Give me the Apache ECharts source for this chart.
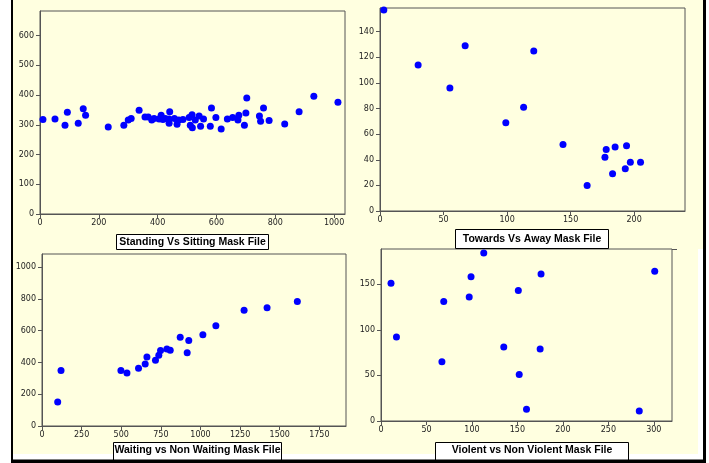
<!DOCTYPE html>
<html><head><meta charset="utf-8">
<script src="https://cdn.jsdelivr.net/npm/echarts@6/dist/echarts.min.js"></script>
<style>html,body{margin:0;padding:0;background:#fff}#c{width:709px;height:463px}</style>
</head><body><div id="c"></div>
<script>
// ---- data ----
const titles = ["Standing Vs Sitting Mask File", "Towards Vs Away Mask File",
                "Waiting vs Non Waiting Mask File", "Violent vs Non Violent Mask File"];

const standX = [10,51,85,93,130,147,155,232,285,300,310,337,357,368,380,388,405,412,418,426,439,441,439,457,466,472,486,507,511,517,518,528,541,546,556,579,583,598,616,637,655,673,676,695,700,703,746,750,760,779,832,881,931,1013];
const standY = [318,320,299,342,305,354,332,293,299,316,321,349,326,326,316,321,320,332,318,321,305,344,320,321,302,316,318,325,299,334,290,316,330,295,320,295,357,325,286,320,325,316,332,299,340,390,330,312,357,315,303,344,396,376];

const towardX = [3,30,55,67,99,113,121,144,163,177,178,183,185,193,194,197,205];
const towardY = [157,114,96,129,69,81,125,52,20,42,48,29,50,33,51,38,38];

const waitX = [99,120,498,536,609,651,662,716,737,748,788,809,872,916,926,1015,1097,1275,1420,1611];
const waitY = [151,349,349,334,363,391,435,414,445,475,485,477,559,462,538,574,632,729,744,784];

const violX = [11,17,67,69,97,99,113,135,151,152,160,175,176,284,301];
const violY = [151,92,65,131,136,158,184,81,143,51,13,79,161,11,164];

const ticks1X = [0,200,400,600,800,1000];
const ticks1Y = [0,100,200,300,400,500,600];
const ticks2X = [0,50,100,150,200];
const ticks2Y = [0,20,40,60,80,100,120,140];
const ticks3X = [0,250,500,750,1000,1250,1500,1750];
const ticks3Y = [0,200,400,600,800,1000];
const ticks4X = [0,50,100,150,200,250,300];
const ticks4Y = [0,50,100,150];

// ---- layout / style ----
const grids = [
  {left:40, top:11, width:305, height:203},
  {left:380, top:8, width:305, height:203},
  {left:42, top:254, width:304, height:172},
  {left:381, top:249, width:291, height:172}
];
const ranges = [
  {xmax:1037, ymax:683, xi:200, yi:100},
  {xmax:240, ymax:158.5, xi:50, yi:20},
  {xmax:1918, ymax:1083, xi:250, yi:200},
  {xmax:320, ymax:188.5, xi:50, yi:50}
];
const tickSets = [[ticks1X,ticks1Y],[ticks2X,ticks2Y],[ticks3X,ticks3Y],[ticks4X,ticks4Y]];
const dataSets = [[standX,standY],[towardX,towardY],[waitX,waitY],[violX,violY]];
const boxes = [
  {x:116, y:234, w:152, h:15},
  {x:455, y:229, w:153, h:19},
  {x:113, y:442, w:168, h:19},
  {x:435, y:442, w:193, h:19}
];

const axisCol = '#555';
const lblStyle = {fontFamily:'DejaVu Sans', fontSize:8, color:'#222'};

function mkAxis(i, isX){
  const r = ranges[i];
  const t = tickSets[i][isX?0:1];
  const mx = isX ? r.xmax : r.ymax;
  return {
    type:'value', gridIndex:i, min:0, max:mx, interval: isX?r.xi:r.yi,
    axisLine:{show:true, onZero:false, lineStyle:{color:axisCol, width:1}},
    axisTick:{show:true, inside:false, length:4, lineStyle:{color:axisCol}, customValues:t},
    axisLabel:Object.assign({show:true, margin: isX?5:6, customValues:t,
      formatter:(v)=> (t.indexOf(v)>=0 ? String(v) : '')}, lblStyle),
    splitLine:{show:false}
  };
}

const option = {
  animation:false,
  backgroundColor:'#fff',
  grid: grids.map(g=>Object.assign({show:true, borderColor:axisCol, borderWidth:1, backgroundColor:'transparent', containLabel:false}, g)),
  xAxis: [0,1,2,3].map(i=>mkAxis(i,true)),
  yAxis: [0,1,2,3].map(i=>mkAxis(i,false)),
  series: dataSets.map((d,i)=>({
    type:'scatter', xAxisIndex:i, yAxisIndex:i, symbolSize:7, clip:false,
    itemStyle:{color:'#0000ff', opacity:1},
    data: d[0].map((x,k)=>[x, d[1][k]])
  })),
  graphic: [
    {type:'rect', z:-10, silent:true, shape:{x:13, y:0, width:690, height:249}, style:{fill:'#ffffe0'}},
    {type:'rect', z:-10, silent:true, shape:{x:13, y:249, width:685, height:205}, style:{fill:'#ffffe0'}},
    {type:'rect', z:50, silent:true, shape:{x:11, y:0, width:2, height:463}, style:{fill:'#000'}},
    {type:'rect', z:50, silent:true, shape:{x:703, y:0, width:3, height:463}, style:{fill:'#000'}},
    {type:'rect', z:50, silent:true, shape:{x:11, y:459.5, width:695, height:4}, style:{fill:'#000'}},
    {type:'line', z:5, silent:true, shape:{x1:672, y1:249.5, x2:677, y2:249.5}, style:{stroke:axisCol, lineWidth:1}}
  ].concat(boxes.flatMap((b,i)=>[
    {type:'rect', z:40, silent:true, shape:{x:b.x+0.5, y:b.y+0.5, width:b.w, height:b.h}, style:{fill:'#fff', stroke:'#000', lineWidth:1}},
    {type:'text', z:41, silent:true, x:b.x+b.w/2+0.5, y:(i<2? b.y+b.h/2+0.5 : 450.5),
      style:{text:titles[i], fontFamily:'Liberation Sans', fontWeight:'bold', fontSize:10.5, fill:'#000', align:'center', verticalAlign:'middle'}}
  ]))
};

const chart = echarts.init(document.getElementById('c'), null, {renderer:'canvas'});
chart.setOption(option);
</script>
</body></html>
